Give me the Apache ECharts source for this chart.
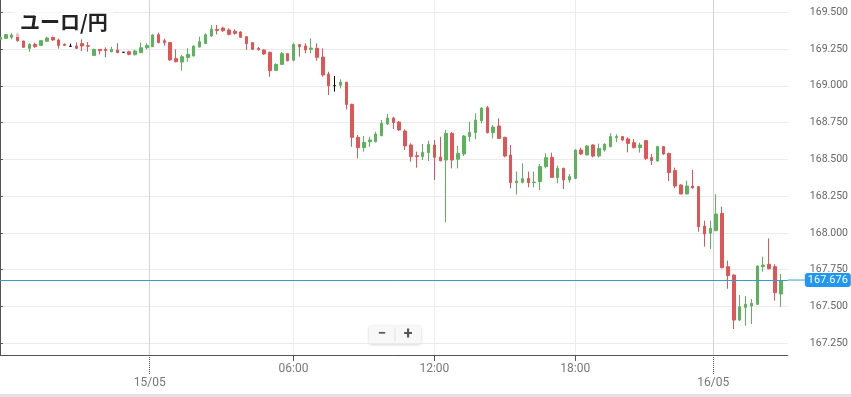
<!DOCTYPE html>
<html>
<head>
<meta charset="utf-8">
<script src="https://cdn.jsdelivr.net/npm/echarts@6/dist/echarts.min.js"></script>
<style>
  html, body { margin: 0; padding: 0; background: #fff; }
  #main { width: 851px; height: 397px; }
</style>
</head>
<body>
<div id="main"></div>
<script>
// 15分足 ユーロ/円 (index 26 = 15/05 00:00)
const opens = [
  169.316, 169.323, 169.330, 169.352, 169.305, 169.255, 169.282, 169.275, 169.303, 169.330,
  169.312, 169.282, 169.269, 169.271, 169.287, 169.273, 169.207, 169.248, 169.248, 169.232,
  169.244, 169.228, 169.232, 169.212, 169.226, 169.259, 169.266, 169.348, 169.307, 169.294,
  169.185, 169.162, 169.192, 169.203, 169.264, 169.287, 169.339, 169.384, 169.393, 169.380,
  169.371, 169.366, 169.334, 169.294, 169.255, 169.244, 169.228, 169.105, 169.146, 169.219,
  169.174, 169.280, 169.271, 169.248, 169.255, 169.196, 169.080, 169.001, 169.004, 169.024,
  168.874, 168.650, 168.580, 168.620, 168.620, 168.661, 168.741, 168.781, 168.754, 168.693,
  168.598, 168.525, 168.519, 168.546, 168.598, 168.516, 168.496, 168.677, 168.501, 168.537,
  168.654, 168.682, 168.763, 168.852, 168.682, 168.727, 168.650, 168.530, 168.342, 168.344,
  168.371, 168.342, 168.349, 168.451, 168.514, 168.376, 168.439, 168.360, 168.371, 168.564,
  168.530, 168.598, 168.523, 168.564, 168.587, 168.648, 168.655, 168.639, 168.614, 168.580,
  168.628, 168.512, 168.489, 168.587, 168.541, 168.424, 168.326, 168.265, 168.319, 168.315,
  168.047, 167.998, 168.016, 168.133, 167.771, 167.714, 167.408, 167.494, 167.503, 167.515,
  167.771, 167.787, 167.771, 167.585
];
const closes = [
  169.330, 169.348, 169.346, 169.307, 169.262, 169.282, 169.266, 169.307, 169.325, 169.312,
  169.275, 169.275, 169.269, 169.255, 169.271, 169.269, 169.248, 169.239, 169.239, 169.248,
  169.226, 169.228, 169.214, 169.237, 169.259, 169.275, 169.346, 169.294, 169.294, 169.176,
  169.164, 169.198, 169.214, 169.271, 169.300, 169.348, 169.386, 169.377, 169.375, 169.350,
  169.357, 169.330, 169.287, 169.248, 169.246, 169.217, 169.103, 169.146, 169.219, 169.171,
  169.282, 169.266, 169.244, 169.257, 169.194, 169.074, 169.001, 169.001, 169.026, 168.874,
  168.650, 168.580, 168.616, 168.632, 168.672, 168.745, 168.781, 168.750, 168.700, 168.591,
  168.519, 168.519, 168.548, 168.602, 168.514, 168.491, 168.677, 168.496, 168.541, 168.659,
  168.684, 168.768, 168.849, 168.682, 168.720, 168.643, 168.523, 168.342, 168.353, 168.369,
  168.342, 168.346, 168.451, 168.512, 168.378, 168.439, 168.360, 168.383, 168.564, 168.537,
  168.591, 168.523, 168.575, 168.603, 168.655, 168.655, 168.632, 168.609, 168.580, 168.598,
  168.507, 168.492, 168.587, 168.537, 168.410, 168.319, 168.265, 168.319, 168.306, 168.043,
  167.993, 168.032, 168.129, 167.764, 167.710, 167.408, 167.499, 167.515, 167.522, 167.775,
  167.782, 167.757, 167.594, 167.676
];
const lows = [
  169.314, 169.318, 169.316, 169.300, 169.259, 169.232, 169.259, 169.271, 169.298, 169.307,
  169.253, 169.273, 169.269, 169.250, 169.237, 169.232, 169.205, 169.214, 169.194, 169.228,
  169.221, 169.228, 169.207, 169.207, 169.221, 169.248, 169.264, 169.289, 169.273, 169.171,
  169.160, 169.103, 169.164, 169.201, 169.262, 169.285, 169.334, 169.350, 169.366, 169.343,
  169.348, 169.325, 169.244, 169.244, 169.239, 169.210, 169.062, 169.101, 169.142, 169.167,
  169.167, 169.199, 169.221, 169.221, 169.171, 169.062, 168.938, 168.961, 168.983, 168.840,
  168.586, 168.507, 168.553, 168.586, 168.616, 168.659, 168.734, 168.707, 168.695, 168.564,
  168.485, 168.444, 168.496, 168.489, 168.360, 168.487, 168.072, 168.439, 168.439, 168.523,
  168.620, 168.636, 168.745, 168.677, 168.643, 168.641, 168.514, 168.303, 168.262, 168.337,
  168.310, 168.310, 168.292, 168.439, 168.374, 168.337, 168.299, 168.342, 168.367, 168.530,
  168.528, 168.514, 168.514, 168.553, 168.582, 168.618, 168.623, 168.548, 168.575, 168.546,
  168.496, 168.462, 168.485, 168.530, 168.353, 168.304, 168.263, 168.263, 168.301, 168.009,
  167.907, 167.891, 168.011, 167.760, 167.621, 167.347, 167.401, 167.370, 167.381, 167.510,
  167.737, 167.753, 167.540, 167.499
];
const highs = [
  169.334, 169.352, 169.357, 169.362, 169.307, 169.289, 169.294, 169.312, 169.339, 169.343,
  169.321, 169.289, 169.287, 169.296, 169.316, 169.298, 169.253, 169.250, 169.262, 169.266,
  169.289, 169.228, 169.239, 169.246, 169.294, 169.289, 169.350, 169.362, 169.321, 169.298,
  169.248, 169.210, 169.255, 169.273, 169.334, 169.357, 169.414, 169.414, 169.402, 169.391,
  169.384, 169.371, 169.339, 169.298, 169.264, 169.248, 169.232, 169.153, 169.230, 169.221,
  169.289, 169.285, 169.289, 169.323, 169.289, 169.255, 169.096, 169.067, 169.044, 169.028,
  168.879, 168.666, 168.659, 168.654, 168.688, 168.768, 168.809, 168.790, 168.761, 168.704,
  168.609, 168.553, 168.605, 168.627, 168.632, 168.654, 168.700, 168.686, 168.591, 168.666,
  168.756, 168.813, 168.854, 168.863, 168.734, 168.779, 168.654, 168.598, 168.417, 168.473,
  168.417, 168.417, 168.469, 168.541, 168.546, 168.458, 168.444, 168.401, 168.569, 168.580,
  168.598, 168.603, 168.607, 168.609, 168.677, 168.671, 168.659, 168.650, 168.639, 168.614,
  168.632, 168.537, 168.591, 168.591, 168.546, 168.444, 168.331, 168.356, 168.428, 168.319,
  168.084, 168.084, 168.263, 168.179, 167.812, 167.719, 167.578, 167.571, 167.551, 167.780,
  167.839, 167.963, 167.787, 167.721
];

const yTicks = [167.25, 167.5, 167.75, 168, 168.25, 168.5, 168.75, 169, 169.25, 169.5];
const hourTickPos = [50, 74, 98];
const hourTickText = ['06:00', '12:00', '18:00'];
const dayTickPos = [25.5, 121.5];
const dayTickText = ['15/05', '16/05'];
const lastPrice = 167.676;

const UP = '#5cb35c';
const DOWN = '#e05555';

const candles = opens.map((o, i) => {
  const item = { value: [i, o, closes[i], lows[i], highs[i]] };
  if (o === closes[i]) {
    item.itemStyle = { color: '#000', color0: '#000', borderColor: '#000', borderColor0: '#000' };
  }
  return item;
});

const chart = echarts.init(document.getElementById('main'));
chart.setOption({
  animation: false,
  backgroundColor: '#fff',
  title: {
    text: 'ユーロ/円',
    left: 14,
    top: 8,
    padding: [4, 6, 5, 6],
    backgroundColor: 'rgba(255,255,255,0.6)',
    textStyle: { fontSize: 20, fontWeight: 'bold', color: '#222', fontFamily: 'Noto Sans CJK JP' }
  },
  grid: { left: 0, right: 60, top: 0, bottom: 42 },
  xAxis: [
    {
      type: 'value', min: 0, max: 134.2,
      axisLine: { show: true, lineStyle: { color: '#555' } },
      axisTick: { show: true, customValues: hourTickPos, length: 6, lineStyle: { color: '#555' } },
      axisLabel: {
        customValues: hourTickPos, margin: 8, color: '#777', fontSize: 12, fontFamily: 'Roboto',
        formatter: v => hourTickText[hourTickPos.indexOf(v)] || ''
      },
      splitLine: { show: true, lineStyle: { color: '#ececec' } }
    },
    {
      type: 'value', min: 0, max: 134.2, position: 'bottom',
      axisLine: { show: false },
      axisTick: { show: true, customValues: dayTickPos, length: 19, lineStyle: { color: '#555', type: 'dotted' } },
      axisLabel: {
        customValues: dayTickPos, margin: 22, color: '#777', fontSize: 12, fontFamily: 'Roboto',
        formatter: v => dayTickText[dayTickPos.indexOf(v)] || ''
      },
      splitLine: { show: true, lineStyle: { color: '#d2d2d2' } }
    }
  ],
  yAxis: {
    type: 'value', position: 'right', min: 167.1705, max: 169.5836,
    axisLine: { show: true, lineStyle: { color: '#555' } },
    axisTick: { show: true, customValues: yTicks, length: 3, lineStyle: { color: '#555' } },
    axisLabel: {
      customValues: yTicks, margin: 22, color: '#666', fontSize: 10.5, fontFamily: 'Roboto',
      formatter: v => v.toFixed(3)
    },
    splitLine: { show: true, lineStyle: { color: '#ebebeb' } }
  },
  series: [{
    type: 'candlestick',
    data: candles,
    barWidth: 3,
    itemStyle: { color: UP, color0: DOWN, borderColor: UP, borderColor0: DOWN, borderWidth: 1 },
    markLine: {
      silent: true,
      symbol: ['none', 'none'],
      lineStyle: { color: '#3a9ec4', width: 1, type: 'solid' },
      label: {
        position: 'end',
        distance: 0,
        formatter: '{l|}{b|' + lastPrice.toFixed(3) + '}',
        rich: {
          l: { width: 17, height: 1, backgroundColor: '#3a9ec4' },
          b: {
            color: '#fff', fontSize: 11, fontFamily: 'Roboto',
            backgroundColor: '#2196f3', borderRadius: 3, padding: [2, 3, 1, 3]
          }
        }
      },
      data: [{ yAxis: lastPrice }]
    }
  }],
  graphic: [
    {
      type: 'rect', left: 0, top: 394, silent: true,
      shape: { width: 851, height: 3 }, style: { fill: '#e4e4e4' }
    },
    {
      type: 'group', left: 369, top: 325, silent: true,
      children: [
        {
          type: 'rect', shape: { x: 0, y: 0, width: 52, height: 18, r: 2 },
          style: { fill: '#f8f8f8', shadowBlur: 3, shadowColor: 'rgba(0,0,0,0.2)', shadowOffsetY: 1 }
        },
        { type: 'line', shape: { x1: 26, y1: 2, x2: 26, y2: 16 }, style: { stroke: '#e2e2e2' } },
        {
          type: 'text', x: 13, y: 9,
          style: { text: '−', fill: '#555', font: 'bold 15px Roboto', align: 'center', verticalAlign: 'middle' }
        },
        {
          type: 'text', x: 39, y: 9,
          style: { text: '+', fill: '#555', font: 'bold 16px Roboto', align: 'center', verticalAlign: 'middle' }
        }
      ]
    }
  ]
});
</script>
</body>
</html>
